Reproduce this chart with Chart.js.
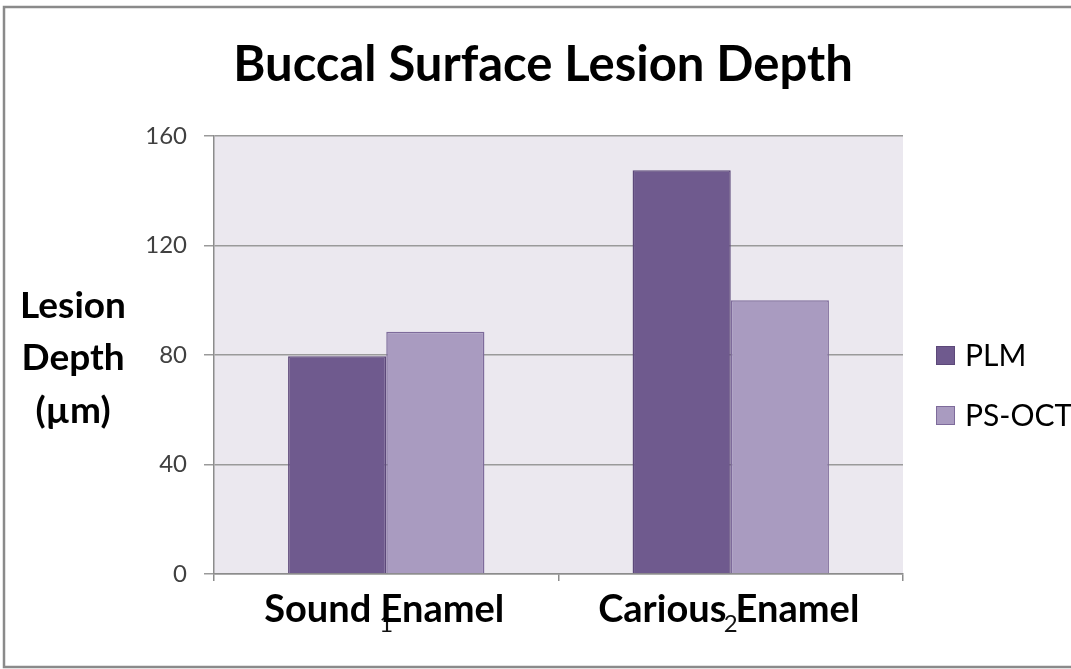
<!DOCTYPE html>
<html>
<head>
<meta charset="utf-8">
<title>Buccal Surface Lesion Depth</title>
<script src="https://cdn.jsdelivr.net/npm/chart.js@4.4.0/dist/chart.umd.min.js"></script>
<style>
  html, body { margin: 0; padding: 0; background: #ffffff; }
  #wrap { width: 1071px; height: 669px; }
</style>
</head>
<body>
<div id="wrap"><canvas id="chart" width="1071" height="669"></canvas></div>
<script>
// Data
const tickLabels = ['1', '2'];
const groupNames = ['Sound Enamel', 'Carious Enamel'];
const seriesNames = ['PLM', 'PS-OCT'];
const plmValues = [79.5, 147.5];
const psOctValues = [88.5, 100];
const yTickValues = [0, 40, 80, 120, 160];

const titleText = 'Buccal Surface Lesion Depth';
const yTitleLines = ['Lesion', 'Depth', '(\u00b5m)'];

const FONT = 'Lato, "Open Sans", "DejaVu Sans", sans-serif';
const seriesFill = ['#6F5A8E', '#A99BC0'];
const seriesEdge = ['#5C4879', '#7E6B9B'];

// Page frame and plot background
const framePlugin = {
  id: 'frame',
  beforeDraw(chart) {
    const ctx = chart.ctx;
    const a = chart.chartArea;
    ctx.save();
    ctx.fillStyle = '#ffffff';
    ctx.fillRect(0, 0, chart.width, chart.height);
    ctx.fillStyle = '#EBE8EF';
    ctx.fillRect(a.left, a.top, a.right - a.left, a.bottom - a.top);
    ctx.strokeStyle = '#8a8a8a';
    ctx.lineWidth = 2.5;
    ctx.strokeRect(4, 7, 1100, 660);
    ctx.restore();
  }
};

// Title, axis title, category names and legend
const textPlugin = {
  id: 'texts',
  afterDraw(chart) {
    const ctx = chart.ctx;
    const xs = chart.scales.x;
    ctx.save();
    ctx.fillStyle = '#000000';
    ctx.textBaseline = 'alphabetic';

    // Title
    ctx.font = 'bold 49px ' + FONT;
    ctx.textAlign = 'center';
    ctx.fillText(titleText, 543, 81);

    // Vertical axis title, written horizontally in three lines
    ctx.font = 'bold 37px ' + FONT;
    const yBase = [318, 370, 423];
    yTitleLines.forEach((line, i) => ctx.fillText(line, 73, yBase[i]));

    // Category names under the bars
    ctx.font = 'bold 38px ' + FONT;
    groupNames.forEach((name, i) => {
      ctx.fillText(name, xs.getPixelForValue(i) - 2, 622);
    });

    // Legend
    ctx.textAlign = 'left';
    ctx.font = '30px ' + FONT;
    const legendY = [355, 415];
    chart.data.datasets.forEach((ds, i) => {
      const cy = legendY[i];
      ctx.fillStyle = ds.backgroundColor;
      ctx.fillRect(936, cy - 9, 19, 19);
      ctx.strokeStyle = ds.borderColor;
      ctx.lineWidth = 1;
      ctx.strokeRect(936.5, cy - 8.5, 18, 18);
      ctx.fillStyle = '#000000';
      ctx.fillText(ds.label, 965, cy + 11);
    });
    ctx.restore();
  }
};

new Chart(document.getElementById('chart'), {
  type: 'bar',
  data: {
    labels: tickLabels,
    datasets: [
      {
        label: seriesNames[0],
        data: plmValues,
        backgroundColor: seriesFill[0],
        borderColor: seriesEdge[0],
        borderWidth: 1.5
      },
      {
        label: seriesNames[1],
        data: psOctValues,
        backgroundColor: seriesFill[1],
        borderColor: seriesEdge[1],
        borderWidth: 1.5
      }
    ]
  },
  options: {
    responsive: false,
    animation: false,
    devicePixelRatio: 1,
    layout: { padding: { left: 0, top: 136, right: 168, bottom: 0 } },
    datasets: { bar: { categoryPercentage: 0.57, barPercentage: 1 } },
    plugins: {
      legend: { display: false },
      title: { display: false },
      tooltip: { enabled: false }
    },
    scales: {
      y: {
        min: 0,
        max: 160,
        afterBuildTicks(scale) {
          scale.ticks = yTickValues.map(v => ({ value: v }));
        },
        afterFit(scale) { scale.width = 214; },
        ticks: {
          font: { family: FONT, size: 24 },
          color: '#404040',
          padding: 17
        },
        grid: {
          color: '#9a9a9a',
          lineWidth: 1.5,
          tickLength: 10
        },
        border: { display: true, color: '#8c8c8c', width: 1.5 }
      },
      x: {
        afterFit(scale) { scale.height = 95; },
        ticks: {
          font: { family: FONT, size: 24 },
          color: '#111111',
          padding: 29
        },
        grid: {
          drawOnChartArea: false,
          drawTicks: true,
          tickLength: 7,
          color: '#8c8c8c',
          lineWidth: 1.5
        },
        border: { display: true, color: '#8c8c8c', width: 1.5 }
      }
    }
  },
  plugins: [framePlugin, textPlugin]
});
</script>
</body>
</html>
